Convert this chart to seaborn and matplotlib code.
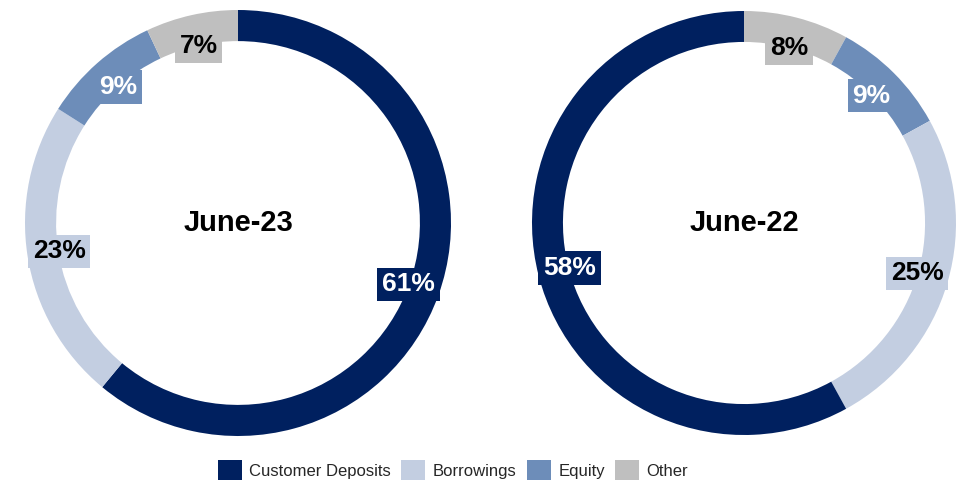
import numpy as np
import matplotlib
matplotlib.use("Agg")
import matplotlib.pyplot as plt
import seaborn as sns
from matplotlib.patches import Patch

categories = ["Customer Deposits", "Borrowings", "Equity", "Other"]
june23_values = [61, 23, 9, 7]
june22_values = [58, 25, 9, 8]
period_labels = ["June-23", "June-22"]

sns.set_theme(style="white")
plt.rcParams["font.family"] = ["Liberation Sans", "DejaVu Sans"]

palette = {
    "Customer Deposits": "#00205F",
    "Borrowings": "#C3CEE1",
    "Equity": "#6D8DB9",
    "Other": "#BFBFBF",
}
label_text_color = {
    "Customer Deposits": "white",
    "Borrowings": "black",
    "Equity": "white",
    "Other": "black",
}

W, H = 963, 482
fig = plt.figure(figsize=(W / 100, H / 100), dpi=100)
fig.patch.set_facecolor("white")


def donut(cx, cy, R, cats, vals, title):
    ax = fig.add_axes([(cx - R) / W, (H - cy - R) / H, 2 * R / W, 2 * R / H])
    colors = [palette[c] for c in cats]
    ax.pie(vals, colors=colors, startangle=90, counterclock=False,
           radius=1.0, wedgeprops=dict(width=0.146, edgecolor="none"))
    total = float(sum(vals))
    cum = 0.0
    for c, v in zip(cats, vals):
        mid = (cum + v / 2.0) / total * 360.0
        cum += v
        theta = np.deg2rad(90 - mid)
        r = 0.85
        ax.text(r * np.cos(theta), r * np.sin(theta), f"{v}%",
                ha="center", va="center", fontsize=19, fontweight="bold",
                color=label_text_color[c],
                bbox=dict(boxstyle="square,pad=0.18", facecolor=palette[c],
                          edgecolor="none"))
    ax.text(0, 0, title, ha="center", va="center", fontsize=21,
            fontweight="bold", color="black")
    ax.set_xlim(-1, 1)
    ax.set_ylim(-1, 1)
    ax.set_aspect("equal")
    ax.axis("off")
    return ax


left_order = categories
donut(238, 223, 213, left_order,
      [june23_values[categories.index(c)] for c in left_order], period_labels[0])

right_order = ["Other", "Equity", "Borrowings", "Customer Deposits"]
donut(744, 223, 212, right_order,
      [june22_values[categories.index(c)] for c in right_order], period_labels[1])

handles = [Patch(facecolor=palette[c], edgecolor="none", label=c) for c in categories]
fig.legend(handles=handles, loc="center", bbox_to_anchor=(453 / W, 1 - 470 / H),
           ncol=4, frameon=False, fontsize=12, handlelength=1.45,
           handleheight=1.45, handletextpad=0.45, columnspacing=0.6,
           borderaxespad=0, borderpad=0)

fig.savefig("out.png", dpi=100, facecolor="white")
